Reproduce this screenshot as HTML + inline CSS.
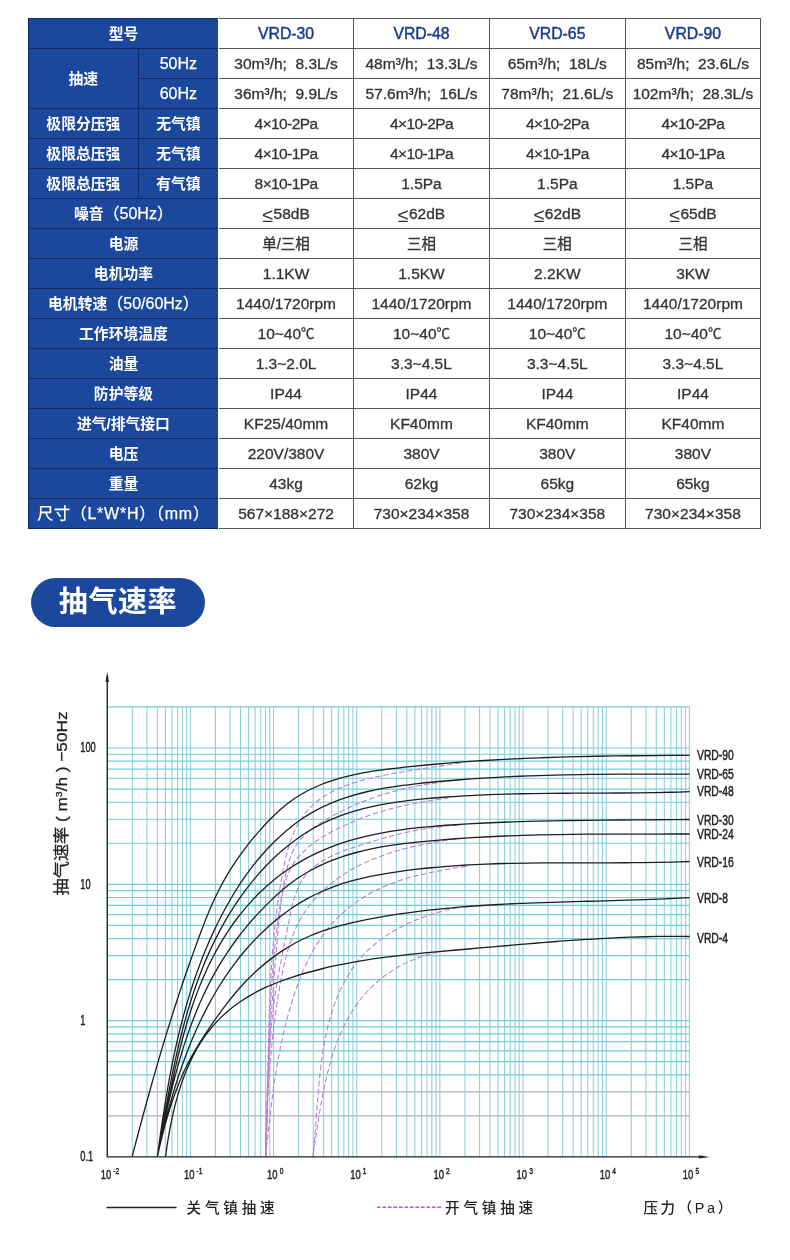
<!DOCTYPE html>
<html lang="zh-CN">
<head>
<meta charset="utf-8">
<title>VRD 真空泵参数 / 抽气速率</title>
<style>
html,body{margin:0;padding:0;background:#fff;}
body{width:790px;height:1260px;position:relative;overflow:hidden;
 font-family:"Liberation Sans","Noto Sans CJK SC",sans-serif;color:#333;}
.abs{position:absolute;}
.tbl{position:absolute;left:0;top:0;width:790px;height:560px;}
.blue{position:absolute;background:#1b489d;}
.c{position:absolute;display:flex;align-items:center;justify-content:center;white-space:pre;
 font-size:15.5px;line-height:30px;height:30px;padding-top:0.6px;box-sizing:border-box;color:#333;-webkit-text-stroke:0.3px #333;}
.h{color:#fff;-webkit-text-stroke:0;font-weight:700;font-size:14.8px;font-family:"Liberation Sans","Noto Sans CJK SC",sans-serif;}
.h2{color:#fff;font-weight:400;font-size:16px;-webkit-text-stroke:0.25px #fff;}
.n{letter-spacing:-0.6px;}
.le{font-size:19.5px;line-height:0;position:relative;top:0.8px;margin-right:0.5px;-webkit-text-stroke:0;}
.r{font-weight:400;font-size:16px;-webkit-text-stroke:0.25px #fff;}
.k{font-family:"Liberation Sans","Noto Sans CJK SC",sans-serif;font-size:14.5px;}
.m{color:#1b3a8c;font-size:15.8px;-webkit-text-stroke:0.45px #1b3a8c;}
.hl{position:absolute;height:1.25px;background:#555;}
.vl{position:absolute;width:1.25px;background:#555;}
.hn{position:absolute;height:1.8px;background:#122a63;}
.vn{position:absolute;width:1.8px;background:#122a63;}
.badge{position:absolute;left:31px;top:578px;width:174px;height:49px;border-radius:25px;background:#1b489d;
 color:#fff;font-weight:700;font-size:29px;line-height:49px;text-align:center;letter-spacing:0.6px;
 font-family:"Liberation Sans","Noto Sans CJK SC",sans-serif;}
svg{position:absolute;left:0;top:650px;}
svg text{font-family:"Liberation Sans","Noto Sans CJK SC",sans-serif;fill:#222;}
</style>
</head>
<body>

<div class="tbl">
<div class="blue" style="left:28.4px;top:18.5px;width:190.1px;height:510px"></div>
<div class="c h" style="left:28.4px;top:18.5px;width:190.1px">型号</div>
<div class="c m" style="left:218.5px;top:18.5px;width:135.1px">VRD-30</div>
<div class="c m" style="left:353.6px;top:18.5px;width:135.8px">VRD-48</div>
<div class="c m" style="left:489.4px;top:18.5px;width:135.9px">VRD-65</div>
<div class="c m" style="left:625.3px;top:18.5px;width:135.3px">VRD-90</div>
<div class="c h" style="left:28.4px;top:48.5px;width:109.9px;height:60px">抽速</div>
<div class="c h2" style="left:138.3px;top:48.5px;width:80.2px">50Hz</div>
<div class="c" style="left:218.5px;top:48.5px;width:135.1px">30m³/h;  8.3L/s</div>
<div class="c" style="left:353.6px;top:48.5px;width:135.8px">48m³/h;  13.3L/s</div>
<div class="c" style="left:489.4px;top:48.5px;width:135.9px">65m³/h;  18L/s</div>
<div class="c" style="left:625.3px;top:48.5px;width:135.3px">85m³/h;  23.6L/s</div>
<div class="c h2" style="left:138.3px;top:78.5px;width:80.2px">60Hz</div>
<div class="c" style="left:218.5px;top:78.5px;width:135.1px">36m³/h;  9.9L/s</div>
<div class="c" style="left:353.6px;top:78.5px;width:135.8px">57.6m³/h;  16L/s</div>
<div class="c" style="left:489.4px;top:78.5px;width:135.9px">78m³/h;  21.6L/s</div>
<div class="c" style="left:625.3px;top:78.5px;width:135.3px">102m³/h;  28.3L/s</div>
<div class="c h" style="left:28.4px;top:108.5px;width:109.9px;height:30px">极限分压强</div>
<div class="c h" style="left:138.3px;top:108.5px;width:80.2px">无气镇</div>
<div class="c" style="left:218.5px;top:108.5px;width:135.1px"><span class=n>4×10-2Pa</span></div>
<div class="c" style="left:353.6px;top:108.5px;width:135.8px"><span class=n>4×10-2Pa</span></div>
<div class="c" style="left:489.4px;top:108.5px;width:135.9px"><span class=n>4×10-2Pa</span></div>
<div class="c" style="left:625.3px;top:108.5px;width:135.3px"><span class=n>4×10-2Pa</span></div>
<div class="c h" style="left:28.4px;top:138.5px;width:109.9px;height:30px">极限总压强</div>
<div class="c h" style="left:138.3px;top:138.5px;width:80.2px">无气镇</div>
<div class="c" style="left:218.5px;top:138.5px;width:135.1px"><span class=n>4×10-1Pa</span></div>
<div class="c" style="left:353.6px;top:138.5px;width:135.8px"><span class=n>4×10-1Pa</span></div>
<div class="c" style="left:489.4px;top:138.5px;width:135.9px"><span class=n>4×10-1Pa</span></div>
<div class="c" style="left:625.3px;top:138.5px;width:135.3px"><span class=n>4×10-1Pa</span></div>
<div class="c h" style="left:28.4px;top:168.5px;width:109.9px;height:30px">极限总压强</div>
<div class="c h" style="left:138.3px;top:168.5px;width:80.2px">有气镇</div>
<div class="c" style="left:218.5px;top:168.5px;width:135.1px"><span class=n>8×10-1Pa</span></div>
<div class="c" style="left:353.6px;top:168.5px;width:135.8px">1.5Pa</div>
<div class="c" style="left:489.4px;top:168.5px;width:135.9px">1.5Pa</div>
<div class="c" style="left:625.3px;top:168.5px;width:135.3px">1.5Pa</div>
<div class="c h" style="left:28.4px;top:198.5px;width:190.1px">噪音<span class=r>（50Hz）</span></div>
<div class="c" style="left:218.5px;top:198.5px;width:135.1px"><span class=le>≤</span>58dB</div>
<div class="c" style="left:353.6px;top:198.5px;width:135.8px"><span class=le>≤</span>62dB</div>
<div class="c" style="left:489.4px;top:198.5px;width:135.9px"><span class=le>≤</span>62dB</div>
<div class="c" style="left:625.3px;top:198.5px;width:135.3px"><span class=le>≤</span>65dB</div>
<div class="c h" style="left:28.4px;top:228.5px;width:190.1px">电源</div>
<div class="c" style="left:218.5px;top:228.5px;width:135.1px"><span class=k>单/三相</span></div>
<div class="c" style="left:353.6px;top:228.5px;width:135.8px"><span class=k>三相</span></div>
<div class="c" style="left:489.4px;top:228.5px;width:135.9px"><span class=k>三相</span></div>
<div class="c" style="left:625.3px;top:228.5px;width:135.3px"><span class=k>三相</span></div>
<div class="c h" style="left:28.4px;top:258.5px;width:190.1px">电机功率</div>
<div class="c" style="left:218.5px;top:258.5px;width:135.1px">1.1KW</div>
<div class="c" style="left:353.6px;top:258.5px;width:135.8px">1.5KW</div>
<div class="c" style="left:489.4px;top:258.5px;width:135.9px">2.2KW</div>
<div class="c" style="left:625.3px;top:258.5px;width:135.3px">3KW</div>
<div class="c h" style="left:28.4px;top:288.5px;width:190.1px">电机转速<span class=r>（50/60Hz）</span></div>
<div class="c" style="left:218.5px;top:288.5px;width:135.1px">1440/1720rpm</div>
<div class="c" style="left:353.6px;top:288.5px;width:135.8px">1440/1720rpm</div>
<div class="c" style="left:489.4px;top:288.5px;width:135.9px">1440/1720rpm</div>
<div class="c" style="left:625.3px;top:288.5px;width:135.3px">1440/1720rpm</div>
<div class="c h" style="left:28.4px;top:318.5px;width:190.1px">工作环境温度</div>
<div class="c" style="left:218.5px;top:318.5px;width:135.1px">10~40<span class=k style="font-size:13.5px">℃</span></div>
<div class="c" style="left:353.6px;top:318.5px;width:135.8px">10~40<span class=k style="font-size:13.5px">℃</span></div>
<div class="c" style="left:489.4px;top:318.5px;width:135.9px">10~40<span class=k style="font-size:13.5px">℃</span></div>
<div class="c" style="left:625.3px;top:318.5px;width:135.3px">10~40<span class=k style="font-size:13.5px">℃</span></div>
<div class="c h" style="left:28.4px;top:348.5px;width:190.1px">油量</div>
<div class="c" style="left:218.5px;top:348.5px;width:135.1px">1.3~2.0L</div>
<div class="c" style="left:353.6px;top:348.5px;width:135.8px">3.3~4.5L</div>
<div class="c" style="left:489.4px;top:348.5px;width:135.9px">3.3~4.5L</div>
<div class="c" style="left:625.3px;top:348.5px;width:135.3px">3.3~4.5L</div>
<div class="c h" style="left:28.4px;top:378.5px;width:190.1px">防护等级</div>
<div class="c" style="left:218.5px;top:378.5px;width:135.1px">IP44</div>
<div class="c" style="left:353.6px;top:378.5px;width:135.8px">IP44</div>
<div class="c" style="left:489.4px;top:378.5px;width:135.9px">IP44</div>
<div class="c" style="left:625.3px;top:378.5px;width:135.3px">IP44</div>
<div class="c h" style="left:28.4px;top:408.5px;width:190.1px">进气/排气接口</div>
<div class="c" style="left:218.5px;top:408.5px;width:135.1px">KF25/40mm</div>
<div class="c" style="left:353.6px;top:408.5px;width:135.8px">KF40mm</div>
<div class="c" style="left:489.4px;top:408.5px;width:135.9px">KF40mm</div>
<div class="c" style="left:625.3px;top:408.5px;width:135.3px">KF40mm</div>
<div class="c h" style="left:28.4px;top:438.5px;width:190.1px">电压</div>
<div class="c" style="left:218.5px;top:438.5px;width:135.1px">220V/380V</div>
<div class="c" style="left:353.6px;top:438.5px;width:135.8px">380V</div>
<div class="c" style="left:489.4px;top:438.5px;width:135.9px">380V</div>
<div class="c" style="left:625.3px;top:438.5px;width:135.3px">380V</div>
<div class="c h" style="left:28.4px;top:468.5px;width:190.1px">重量</div>
<div class="c" style="left:218.5px;top:468.5px;width:135.1px">43kg</div>
<div class="c" style="left:353.6px;top:468.5px;width:135.8px">62kg</div>
<div class="c" style="left:489.4px;top:468.5px;width:135.9px">65kg</div>
<div class="c" style="left:625.3px;top:468.5px;width:135.3px">65kg</div>
<div class="c h" style="left:28.4px;top:498.5px;width:190.1px"><span class=r style="letter-spacing:0.75px">尺寸（L*W*H）（mm）</span></div>
<div class="c" style="left:218.5px;top:498.5px;width:135.1px">567×188×272</div>
<div class="c" style="left:353.6px;top:498.5px;width:135.8px">730×234×358</div>
<div class="c" style="left:489.4px;top:498.5px;width:135.9px">730×234×358</div>
<div class="c" style="left:625.3px;top:498.5px;width:135.3px">730×234×358</div>
<div class="hl" style="left:218.5px;top:17.8px;width:542.8px"></div>
<div class="hn" style="left:27.6px;top:17.7px;width:190.9px"></div>
<div class="hl" style="left:218.5px;top:47.8px;width:542.8px"></div>
<div class="hn" style="left:27.6px;top:47.7px;width:190.9px"></div>
<div class="hl" style="left:218.5px;top:77.8px;width:542.8px"></div>
<div class="hn" style="left:138.3px;top:77.7px;width:80.2px"></div>
<div class="hl" style="left:218.5px;top:107.8px;width:542.8px"></div>
<div class="hn" style="left:27.6px;top:107.7px;width:190.9px"></div>
<div class="hl" style="left:218.5px;top:137.8px;width:542.8px"></div>
<div class="hn" style="left:27.6px;top:137.7px;width:190.9px"></div>
<div class="hl" style="left:218.5px;top:167.8px;width:542.8px"></div>
<div class="hn" style="left:27.6px;top:167.7px;width:190.9px"></div>
<div class="hl" style="left:218.5px;top:197.8px;width:542.8px"></div>
<div class="hn" style="left:27.6px;top:197.7px;width:190.9px"></div>
<div class="hl" style="left:218.5px;top:227.8px;width:542.8px"></div>
<div class="hn" style="left:27.6px;top:227.7px;width:190.9px"></div>
<div class="hl" style="left:218.5px;top:257.8px;width:542.8px"></div>
<div class="hn" style="left:27.6px;top:257.7px;width:190.9px"></div>
<div class="hl" style="left:218.5px;top:287.8px;width:542.8px"></div>
<div class="hn" style="left:27.6px;top:287.7px;width:190.9px"></div>
<div class="hl" style="left:218.5px;top:317.8px;width:542.8px"></div>
<div class="hn" style="left:27.6px;top:317.7px;width:190.9px"></div>
<div class="hl" style="left:218.5px;top:347.8px;width:542.8px"></div>
<div class="hn" style="left:27.6px;top:347.7px;width:190.9px"></div>
<div class="hl" style="left:218.5px;top:377.8px;width:542.8px"></div>
<div class="hn" style="left:27.6px;top:377.7px;width:190.9px"></div>
<div class="hl" style="left:218.5px;top:407.8px;width:542.8px"></div>
<div class="hn" style="left:27.6px;top:407.7px;width:190.9px"></div>
<div class="hl" style="left:218.5px;top:437.8px;width:542.8px"></div>
<div class="hn" style="left:27.6px;top:437.7px;width:190.9px"></div>
<div class="hl" style="left:218.5px;top:467.8px;width:542.8px"></div>
<div class="hn" style="left:27.6px;top:467.7px;width:190.9px"></div>
<div class="hl" style="left:218.5px;top:497.8px;width:542.8px"></div>
<div class="hn" style="left:27.6px;top:497.7px;width:190.9px"></div>
<div class="hl" style="left:218.5px;top:527.8px;width:542.8px"></div>
<div class="hn" style="left:27.6px;top:527.7px;width:190.9px"></div>
<div class="vl" style="left:352.9px;top:17.8px;height:511.4px"></div>
<div class="vl" style="left:488.7px;top:17.8px;height:511.4px"></div>
<div class="vl" style="left:624.6px;top:17.8px;height:511.4px"></div>
<div class="vl" style="left:759.9px;top:17.8px;height:511.4px"></div>
<div class="vn" style="left:27.6px;top:17.7px;height:511.6px"></div>
<div class="vn" style="left:137.5px;top:48.5px;height:150px"></div>
</div>
<div class="badge">抽气速率</div>
<svg width="790" height="610" viewBox="0 650 790 610">
<path d="M132.28 706.97V1156.9M146.93 706.97V1156.9M157.32 706.97V1156.9M165.38 706.97V1156.9M171.96 706.97V1156.9M177.53 706.97V1156.9M182.35 706.97V1156.9M186.6 706.97V1156.9M190.41 706.97V1156.9M215.44 706.97V1156.9M230.09 706.97V1156.9M240.48 706.97V1156.9M248.54 706.97V1156.9M255.12 706.97V1156.9M260.69 706.97V1156.9M265.51 706.97V1156.9M269.76 706.97V1156.9M273.57 706.97V1156.9M298.6 706.97V1156.9M313.25 706.97V1156.9M323.64 706.97V1156.9M331.7 706.97V1156.9M338.28 706.97V1156.9M343.85 706.97V1156.9M348.67 706.97V1156.9M352.92 706.97V1156.9M356.73 706.97V1156.9M381.76 706.97V1156.9M396.41 706.97V1156.9M406.8 706.97V1156.9M414.86 706.97V1156.9M421.44 706.97V1156.9M427.01 706.97V1156.9M431.83 706.97V1156.9M436.08 706.97V1156.9M439.89 706.97V1156.9M464.92 706.97V1156.9M479.57 706.97V1156.9M489.96 706.97V1156.9M498.02 706.97V1156.9M504.6 706.97V1156.9M510.17 706.97V1156.9M514.99 706.97V1156.9M519.24 706.97V1156.9M523.05 706.97V1156.9M548.08 706.97V1156.9M562.73 706.97V1156.9M573.12 706.97V1156.9M581.18 706.97V1156.9M587.76 706.97V1156.9M593.33 706.97V1156.9M598.15 706.97V1156.9M602.4 706.97V1156.9M606.21 706.97V1156.9M631.24 706.97V1156.9M645.89 706.97V1156.9M656.28 706.97V1156.9M664.34 706.97V1156.9M670.92 706.97V1156.9M676.49 706.97V1156.9M681.31 706.97V1156.9M685.56 706.97V1156.9M689.37 706.97V1156.9" stroke="#90cedb" stroke-width="1.05" fill="none"/>
<path d="M107.25 1074.84H689.37M107.25 1061.63H689.37M107.25 1050.84H689.37M107.25 1041.71H689.37M107.25 1033.81H689.37M107.25 1026.84H689.37M107.25 1020.6H689.37M107.25 979.57H689.37M107.25 955.57H689.37M107.25 938.54H689.37M107.25 925.33H689.37M107.25 914.54H689.37M107.25 905.41H689.37M107.25 897.51H689.37M107.25 890.54H689.37M107.25 884.3H689.37M107.25 843.27H689.37M107.25 819.27H689.37M107.25 802.24H689.37M107.25 789.03H689.37M107.25 778.24H689.37M107.25 769.11H689.37M107.25 761.21H689.37M107.25 754.24H689.37M107.25 748H689.37M107.25 706.97H689.37" stroke="#72d0db" stroke-width="1.2" fill="none"/>
<path d="M107.25 1115.87H689.37M107.25 1091.87H689.37" stroke="#adb4b8" stroke-width="1.05" fill="none"/>
<g stroke="#b97cd2" stroke-width="1.05" stroke-dasharray="5.5 2.6" fill="none">
<path d="M265.7 1156.5C265.81 1153.51 266.18 1144.51 266.37 1138.53C266.57 1132.55 266.74 1126.58 266.89 1120.62C267.04 1114.66 267.17 1108.7 267.3 1102.76C267.42 1096.81 267.52 1090.87 267.63 1084.93C267.74 1078.99 267.84 1073.06 267.95 1067.13C268.05 1061.21 268.16 1055.29 268.28 1049.36C268.41 1043.44 268.53 1037.53 268.69 1031.61C268.84 1025.69 269.01 1019.78 269.2 1013.86C269.4 1007.95 269.62 1002.04 269.88 996.12C270.14 990.2 270.42 984.29 270.76 978.37C271.09 972.45 271.46 966.53 271.88 960.6C272.31 954.68 272.77 948.75 273.3 942.81C273.83 936.88 274.41 930.94 275.06 925C275.71 919.05 276.42 913.1 277.2 907.14C277.99 901.18 278.84 895.21 279.77 889.24C280.71 883.27 281.67 877.24 282.83 871.3C283.98 865.36 285.17 859.36 286.71 853.59C288.25 847.83 289.92 842.1 292.06 836.71C294.21 831.32 296.59 826.06 299.56 821.24C302.52 816.42 305.89 811.86 309.86 807.79C313.82 803.72 318.46 800.08 323.36 796.83C328.26 793.59 333.74 790.8 339.24 788.34C344.75 785.87 350.59 783.86 356.41 782.03C362.23 780.2 368.24 778.74 374.16 777.36C380.09 775.98 386.06 774.85 391.94 773.74C397.82 772.63 403.63 771.66 409.45 770.7C415.26 769.74 421.02 768.88 426.83 767.99C432.64 767.1 438.43 766.26 444.29 765.37C450.15 764.47 459.05 763.06 462 762.6" stroke-dashoffset="0"/>
<path d="M265.7 1156.5C265.8 1153.66 266.12 1145.14 266.31 1139.45C266.5 1133.76 266.66 1128.07 266.82 1122.37C266.98 1116.66 267.12 1110.96 267.26 1105.24C267.41 1099.53 267.54 1093.81 267.68 1088.09C267.82 1082.38 267.96 1076.65 268.11 1070.93C268.26 1065.2 268.41 1059.47 268.58 1053.75C268.75 1048.02 268.93 1042.29 269.13 1036.57C269.34 1030.84 269.56 1025.11 269.81 1019.39C270.06 1013.66 270.33 1007.94 270.64 1002.22C270.95 996.5 271.29 990.78 271.67 985.07C272.05 979.36 272.46 973.65 272.93 967.95C273.39 962.25 273.89 956.55 274.45 950.86C275.01 945.17 275.62 939.49 276.28 933.82C276.95 928.15 277.67 922.48 278.46 916.82C279.24 911.17 280.09 905.52 281.01 899.89C281.93 894.25 282.88 888.61 283.97 883.01C285.07 877.42 286.04 871.72 287.57 866.32C289.1 860.92 290.66 855.5 293.18 850.62C295.69 845.74 298.81 841.14 302.66 837.04C306.5 832.93 311.48 829.39 316.24 826C321 822.6 326.17 819.56 331.22 816.67C336.28 813.78 341.4 811.12 346.57 808.65C351.74 806.18 356.96 803.92 362.24 801.82C367.51 799.73 372.84 797.83 378.22 796.08C383.59 794.32 389.02 792.75 394.48 791.29C399.95 789.84 405.46 788.55 411.02 787.36C416.57 786.17 422.16 785.12 427.79 784.16C433.42 783.19 439.09 782.35 444.8 781.58C450.5 780.8 459.13 779.85 462 779.5" stroke-dashoffset="3.1"/>
<path d="M265.7 1156.5C265.73 1153.79 265.8 1145.64 265.88 1140.22C265.96 1134.81 266.06 1129.41 266.19 1124.02C266.31 1118.62 266.45 1113.24 266.62 1107.87C266.78 1102.49 266.96 1097.13 267.16 1091.76C267.36 1086.4 267.59 1081.05 267.82 1075.69C268.06 1070.34 268.32 1064.99 268.6 1059.65C268.87 1054.3 269.16 1048.95 269.47 1043.61C269.78 1038.26 270.11 1032.92 270.45 1027.57C270.79 1022.22 271.15 1016.87 271.52 1011.51C271.89 1006.16 272.28 1000.8 272.68 995.43C273.09 990.06 273.5 984.69 273.93 979.31C274.37 973.93 274.81 968.54 275.27 963.14C275.73 957.74 276.2 952.33 276.68 946.9C277.17 941.48 277.66 936.04 278.17 930.59C278.68 925.14 279.14 919.64 279.73 914.2C280.32 908.75 280.83 903.24 281.73 897.92C282.62 892.61 283.58 887.32 285.1 882.33C286.62 877.35 288.41 872.49 290.84 868.01C293.28 863.53 296.31 859.34 299.73 855.46C303.16 851.58 307.18 848.04 311.4 844.73C315.61 841.43 320.3 838.45 325 835.64C329.71 832.82 334.72 830.27 339.64 827.84C344.56 825.4 349.55 823.14 354.54 821.04C359.53 818.93 364.54 816.99 369.59 815.22C374.63 813.44 379.71 811.86 384.82 810.39C389.93 808.93 395.07 807.64 400.26 806.44C405.44 805.23 410.66 804.17 415.92 803.17C421.19 802.17 426.49 801.28 431.83 800.42C437.18 799.56 445.31 798.4 448 798" stroke-dashoffset="6.2"/>
<path d="M265.7 1156.5C265.81 1153.92 266.15 1146.2 266.35 1141.04C266.54 1135.87 266.7 1130.68 266.86 1125.48C267.02 1120.29 267.15 1115.08 267.3 1109.87C267.45 1104.66 267.59 1099.44 267.74 1094.22C267.9 1089 268.06 1083.78 268.26 1078.56C268.45 1073.34 268.65 1068.11 268.9 1062.9C269.15 1057.69 269.42 1052.48 269.75 1047.28C270.08 1042.08 270.45 1036.89 270.88 1031.72C271.31 1026.54 271.78 1021.38 272.34 1016.24C272.9 1011.09 273.51 1005.97 274.21 1000.86C274.91 995.75 275.7 990.68 276.53 985.6C277.37 980.52 278.29 975.46 279.22 970.38C280.16 965.31 281.16 960.23 282.16 955.13C283.17 950.02 284.21 944.9 285.24 939.74C286.26 934.57 287.27 929.35 288.32 924.13C289.37 918.91 290.28 913.54 291.53 908.4C292.78 903.27 294.02 898.09 295.82 893.32C297.61 888.55 299.6 883.91 302.29 879.8C304.98 875.7 308.28 871.99 311.96 868.68C315.65 865.37 320 862.55 324.42 859.94C328.83 857.33 333.64 855.1 338.48 853.01C343.31 850.92 348.4 849.13 353.42 847.39C358.45 845.65 363.61 844.12 368.65 842.59C373.68 841.05 378.66 839.57 383.64 838.17C388.61 836.78 393.51 835.42 398.5 834.2C403.49 832.99 408.5 831.87 413.56 830.87C418.62 829.87 423.74 829 428.87 828.23C434.01 827.46 439.18 826.81 444.37 826.28C449.56 825.74 457.4 825.21 460 825" stroke-dashoffset="1.2"/>
<path d="M265.7 1156.5C265.77 1154.02 265.97 1146.58 266.13 1141.64C266.28 1136.71 266.44 1131.78 266.62 1126.87C266.8 1121.95 267 1117.05 267.21 1112.15C267.43 1107.26 267.66 1102.37 267.92 1097.49C268.18 1092.61 268.46 1087.74 268.77 1082.87C269.08 1078 269.41 1073.14 269.78 1068.27C270.15 1063.41 270.55 1058.55 270.99 1053.69C271.43 1048.83 271.9 1043.97 272.42 1039.1C272.94 1034.24 273.49 1029.38 274.09 1024.51C274.69 1019.63 275.34 1014.76 276.03 1009.88C276.73 1005 277.46 1000.1 278.26 995.21C279.07 990.32 279.91 985.42 280.85 980.53C281.8 975.65 282.8 970.76 283.92 965.91C285.04 961.06 286.22 956.2 287.6 951.43C288.97 946.67 290.42 941.91 292.15 937.31C293.88 932.71 295.77 928.18 297.96 923.85C300.15 919.52 302.62 915.33 305.31 911.33C308.01 907.32 310.97 903.48 314.12 899.82C317.27 896.16 320.66 892.67 324.2 889.38C327.74 886.08 331.5 882.97 335.38 880.05C339.27 877.13 343.33 874.42 347.5 871.88C351.67 869.34 355.99 867.01 360.39 864.83C364.79 862.65 369.32 860.66 373.91 858.8C378.49 856.94 383.19 855.25 387.91 853.69C392.63 852.12 397.43 850.7 402.24 849.39C407.05 848.08 411.92 846.91 416.77 845.82C421.61 844.73 426.49 843.76 431.33 842.86C436.17 841.96 441.01 841.16 445.79 840.42C450.57 839.68 457.63 838.74 460 838.4" stroke-dashoffset="4.3"/>
<path d="M265.7 1156.5C265.93 1154.24 266.63 1147.45 267.1 1142.93C267.58 1138.4 268.05 1133.88 268.54 1129.35C269.04 1124.83 269.54 1120.3 270.06 1115.78C270.59 1111.26 271.13 1106.74 271.71 1102.22C272.28 1097.7 272.87 1093.19 273.51 1088.68C274.14 1084.17 274.81 1079.66 275.51 1075.17C276.22 1070.67 276.97 1066.17 277.76 1061.68C278.56 1057.2 279.4 1052.71 280.3 1048.24C281.2 1043.77 282.14 1039.3 283.16 1034.85C284.17 1030.39 285.24 1025.95 286.39 1021.51C287.53 1017.08 288.73 1012.65 290.02 1008.24C291.31 1003.82 292.66 999.41 294.11 995.03C295.55 990.65 297.07 986.27 298.7 981.96C300.34 977.64 302.05 973.35 303.9 969.15C305.75 964.94 307.7 960.78 309.8 956.73C311.89 952.68 314.1 948.69 316.47 944.84C318.85 940.99 321.35 937.22 324.03 933.61C326.71 930 329.55 926.51 332.54 923.17C335.54 919.84 338.71 916.64 342.01 913.6C345.3 910.57 348.76 907.68 352.34 904.95C355.91 902.23 359.64 899.66 363.47 897.27C367.3 894.88 371.26 892.65 375.32 890.6C379.37 888.55 383.56 886.69 387.8 884.97C392.05 883.25 396.4 881.71 400.79 880.28C405.18 878.85 409.65 877.57 414.13 876.38C418.61 875.2 423.15 874.14 427.67 873.15C432.19 872.16 436.75 871.28 441.26 870.43C445.78 869.59 450.3 868.84 454.76 868.1C459.21 867.36 465.79 866.35 468 866" stroke-dashoffset="7.4"/>
<path d="M312.8 1156.5C312.99 1154.74 313.58 1149.49 313.93 1145.93C314.28 1142.38 314.6 1138.78 314.9 1135.17C315.21 1131.55 315.49 1127.91 315.77 1124.24C316.06 1120.58 316.32 1116.89 316.6 1113.19C316.88 1109.49 317.15 1105.77 317.44 1102.04C317.74 1098.32 318.03 1094.57 318.36 1090.83C318.68 1087.09 319.02 1083.34 319.4 1079.6C319.77 1075.85 320.17 1072.1 320.62 1068.36C321.07 1064.62 321.55 1060.89 322.09 1057.17C322.62 1053.45 323.2 1049.73 323.85 1046.04C324.5 1042.35 325.19 1038.67 325.97 1035.02C326.75 1031.37 327.58 1027.74 328.5 1024.14C329.43 1020.54 330.42 1016.97 331.51 1013.43C332.6 1009.9 333.76 1006.39 335.04 1002.93C336.31 999.47 337.67 996.03 339.15 992.66C340.63 989.29 342.2 985.96 343.9 982.72C345.6 979.47 347.4 976.28 349.34 973.2C351.27 970.11 353.32 967.1 355.51 964.21C357.7 961.32 360.02 958.53 362.46 955.87C364.91 953.2 367.49 950.65 370.18 948.2C372.86 945.76 375.67 943.43 378.57 941.2C381.46 938.98 384.47 936.87 387.55 934.86C390.63 932.85 393.81 930.94 397.05 929.14C400.28 927.34 403.6 925.65 406.96 924.05C410.33 922.45 413.76 920.96 417.22 919.56C420.69 918.16 424.21 916.86 427.74 915.65C431.28 914.45 434.85 913.34 438.43 912.32C442.01 911.3 445.62 910.38 449.21 909.54C452.81 908.71 458.2 907.68 460 907.3" stroke-dashoffset="2.4"/>
<path d="M312.8 1156.5C313.04 1154.98 313.75 1150.44 314.22 1147.37C314.69 1144.3 315.15 1141.19 315.62 1138.07C316.09 1134.95 316.56 1131.79 317.05 1128.63C317.53 1125.46 318.02 1122.28 318.53 1119.08C319.04 1115.89 319.56 1112.68 320.11 1109.47C320.66 1106.26 321.22 1103.03 321.81 1099.82C322.41 1096.6 323.02 1093.38 323.68 1090.17C324.33 1086.96 325.01 1083.75 325.74 1080.56C326.47 1077.36 327.23 1074.18 328.03 1071.02C328.84 1067.85 329.69 1064.7 330.59 1061.58C331.5 1058.46 332.45 1055.36 333.46 1052.29C334.47 1049.22 335.53 1046.18 336.65 1043.18C337.78 1040.17 338.96 1037.2 340.22 1034.28C341.48 1031.35 342.8 1028.46 344.19 1025.62C345.59 1022.78 347.06 1019.99 348.61 1017.25C350.16 1014.51 351.78 1011.82 353.49 1009.2C355.21 1006.57 357 1004 358.89 1001.5C360.78 998.99 362.76 996.55 364.83 994.18C366.91 991.82 369.09 989.52 371.36 987.3C373.62 985.08 376 982.93 378.45 980.87C380.89 978.81 383.44 976.83 386.05 974.94C388.66 973.05 391.35 971.25 394.1 969.55C396.85 967.84 399.67 966.23 402.54 964.73C405.41 963.22 408.35 961.81 411.32 960.52C414.28 959.23 417.31 958.03 420.36 956.96C423.41 955.89 426.5 954.93 429.61 954.1C432.72 953.26 435.86 952.54 439 951.95C442.15 951.37 445.32 950.9 448.49 950.58C451.66 950.25 456.41 950.1 458 950" stroke-dashoffset="5.5"/>
</g>
<path d="M132.2 1156.5C132.98 1153.5 135.31 1144.49 136.9 1138.48C138.48 1132.48 140.07 1126.47 141.68 1120.47C143.3 1114.47 144.92 1108.47 146.57 1102.48C148.22 1096.48 149.89 1090.49 151.58 1084.51C153.26 1078.52 154.97 1072.54 156.7 1066.56C158.44 1060.59 160.19 1054.62 161.97 1048.66C163.75 1042.7 165.55 1036.74 167.38 1030.8C169.21 1024.85 171.06 1018.92 172.95 1012.99C174.83 1007.06 176.75 1001.15 178.69 995.24C180.63 989.34 182.6 983.45 184.61 977.57C186.61 971.69 188.65 965.82 190.72 959.96C192.79 954.11 194.89 948.27 197.03 942.45C199.17 936.62 201.32 930.8 203.58 925.03C205.84 919.27 208.12 913.51 210.58 907.85C213.04 902.19 215.58 896.58 218.35 891.08C221.11 885.59 224.04 880.19 227.17 874.9C230.3 869.61 233.63 864.43 237.14 859.33C240.65 854.24 244.35 849.25 248.21 844.33C252.07 839.42 256.11 834.57 260.32 829.84C264.53 825.12 268.89 820.37 273.45 815.98C278 811.6 282.73 807.31 287.65 803.52C292.58 799.74 297.72 796.32 303.01 793.28C308.3 790.24 313.79 787.62 319.39 785.27C324.99 782.91 330.77 780.93 336.62 779.14C342.48 777.36 348.47 775.89 354.51 774.56C360.55 773.23 366.7 772.15 372.87 771.16C379.03 770.17 385.28 769.38 391.51 768.61C397.73 767.84 404 767.19 410.24 766.55C416.47 765.9 422.7 765.3 428.93 764.73C435.15 764.16 441.36 763.63 447.57 763.13C453.78 762.63 459.99 762.16 466.19 761.72C472.38 761.28 478.58 760.88 484.77 760.5C490.96 760.12 497.15 759.77 503.33 759.44C509.52 759.11 515.7 758.82 521.88 758.54C528.06 758.27 534.24 758.02 540.43 757.79C546.61 757.56 552.79 757.35 558.98 757.16C565.16 756.98 571.35 756.81 577.54 756.66C583.73 756.51 589.92 756.38 596.12 756.26C602.32 756.14 608.52 756.04 614.73 755.96C620.94 755.87 627.15 755.79 633.37 755.73C639.59 755.66 645.82 755.61 652.06 755.57C658.3 755.53 664.54 755.49 670.8 755.46C677.06 755.44 686.47 755.41 689.6 755.4M157.4 1156.5C157.8 1153.54 158.98 1144.68 159.8 1138.77C160.63 1132.85 161.48 1126.93 162.37 1121.01C163.25 1115.09 164.17 1109.17 165.13 1103.25C166.1 1097.34 167.09 1091.42 168.15 1085.52C169.2 1079.61 170.3 1073.71 171.46 1067.83C172.61 1061.95 173.82 1056.07 175.1 1050.22C176.38 1044.36 177.71 1038.52 179.13 1032.71C180.54 1026.89 182.02 1021.09 183.58 1015.32C185.15 1009.55 186.78 1003.8 188.51 998.08C190.24 992.36 192.05 986.67 193.96 981.02C195.87 975.36 197.86 969.74 199.96 964.15C202.07 958.57 204.26 953.02 206.58 947.52C208.89 942.01 211.3 936.54 213.84 931.13C216.38 925.71 219.02 920.33 221.8 915.02C224.58 909.7 227.47 904.42 230.51 899.24C233.54 894.06 236.71 888.94 240.02 883.93C243.34 878.93 246.78 874 250.4 869.21C254.01 864.43 257.77 859.74 261.7 855.22C265.63 850.69 269.72 846.29 273.99 842.08C278.26 837.86 282.71 833.77 287.32 829.94C291.92 826.11 296.71 822.43 301.63 819.08C306.56 815.74 311.65 812.64 316.86 809.86C322.07 807.07 327.43 804.61 332.89 802.37C338.35 800.13 343.94 798.18 349.59 796.41C355.25 794.64 361.02 793.13 366.84 791.75C372.65 790.38 378.56 789.22 384.48 788.17C390.41 787.11 396.41 786.23 402.4 785.42C408.4 784.6 414.44 783.93 420.46 783.28C426.48 782.63 432.51 782.06 438.52 781.51C444.53 780.97 450.53 780.46 456.52 779.99C462.51 779.52 468.49 779.09 474.46 778.69C480.43 778.29 486.4 777.92 492.36 777.59C498.32 777.25 504.27 776.95 510.22 776.67C516.17 776.4 522.11 776.15 528.06 775.93C534 775.7 539.94 775.51 545.89 775.33C551.83 775.16 557.77 775.01 563.72 774.88C569.66 774.75 575.61 774.64 581.56 774.54C587.52 774.45 593.47 774.38 599.43 774.32C605.4 774.26 611.37 774.21 617.34 774.18C623.32 774.14 629.31 774.13 635.3 774.11C641.3 774.1 647.31 774.1 653.32 774.11C659.34 774.11 665.37 774.12 671.42 774.14C677.47 774.16 686.57 774.19 689.6 774.2M157.4 1156.5C157.89 1153.63 159.37 1145.03 160.37 1139.27C161.36 1133.52 162.35 1127.74 163.37 1121.97C164.38 1116.19 165.4 1110.4 166.46 1104.61C167.51 1098.83 168.59 1093.03 169.71 1087.25C170.83 1081.47 171.98 1075.68 173.18 1069.92C174.39 1064.15 175.63 1058.39 176.94 1052.65C178.26 1046.91 179.62 1041.18 181.06 1035.48C182.5 1029.78 184 1024.09 185.59 1018.44C187.18 1012.79 188.84 1007.17 190.6 1001.58C192.36 995.99 194.2 990.44 196.15 984.93C198.1 979.42 200.15 973.94 202.31 968.52C204.48 963.09 206.75 957.71 209.15 952.39C211.55 947.06 214.06 941.79 216.72 936.58C219.38 931.36 222.16 926.2 225.09 921.12C228.03 916.03 231.1 910.99 234.33 906.06C237.55 901.13 240.92 896.26 244.44 891.52C247.96 886.78 251.62 882.12 255.43 877.62C259.25 873.12 263.21 868.73 267.32 864.51C271.43 860.29 275.69 856.2 280.1 852.32C284.51 848.43 289.08 844.69 293.77 841.19C298.47 837.69 303.32 834.36 308.28 831.32C313.24 828.27 318.34 825.45 323.55 822.9C328.75 820.36 334.09 818.1 339.5 816.05C344.91 814 350.44 812.22 356.03 810.6C361.61 808.98 367.29 807.59 373.01 806.34C378.73 805.09 384.52 804.03 390.34 803.08C396.15 802.12 402.02 801.33 407.89 800.61C413.76 799.88 419.67 799.28 425.56 798.72C431.45 798.16 437.34 797.68 443.23 797.24C449.11 796.79 454.99 796.4 460.87 796.05C466.74 795.7 472.61 795.4 478.48 795.13C484.35 794.86 490.21 794.63 496.07 794.43C501.93 794.23 507.78 794.07 513.64 793.93C519.49 793.79 525.35 793.68 531.2 793.59C537.05 793.49 542.9 793.43 548.75 793.37C554.6 793.31 560.45 793.27 566.3 793.23C572.15 793.19 578.01 793.17 583.86 793.14C589.71 793.12 595.57 793.1 601.43 793.07C607.28 793.05 613.14 793.02 619.01 792.98C624.87 792.94 630.74 792.9 636.61 792.84C642.48 792.77 648.36 792.7 654.24 792.6C660.12 792.49 666.01 792.38 671.9 792.23C677.8 792.08 686.65 791.79 689.6 791.7M157.4 1156.5C157.95 1153.75 159.63 1145.54 160.73 1140.01C161.83 1134.49 162.9 1128.93 163.99 1123.36C165.09 1117.79 166.17 1112.2 167.28 1106.6C168.39 1101 169.51 1095.39 170.67 1089.78C171.83 1084.17 173 1078.56 174.24 1072.96C175.48 1067.35 176.74 1061.75 178.09 1056.18C179.43 1050.6 180.81 1045.04 182.29 1039.5C183.76 1033.97 185.3 1028.46 186.93 1022.98C188.57 1017.51 190.28 1012.07 192.1 1006.67C193.93 1001.28 195.84 995.92 197.88 990.63C199.92 985.33 202.06 980.07 204.35 974.89C206.64 969.71 209.04 964.58 211.6 959.53C214.16 954.48 216.85 949.49 219.71 944.59C222.58 939.69 225.59 934.85 228.77 930.12C231.95 925.4 235.3 920.75 238.79 916.24C242.29 911.73 245.95 907.32 249.76 903.08C253.57 898.83 257.54 894.71 261.66 890.78C265.77 886.84 270.04 883.05 274.45 879.48C278.86 875.9 283.43 872.5 288.12 869.31C292.81 866.13 297.65 863.14 302.57 860.35C307.5 857.57 312.56 854.99 317.68 852.62C322.8 850.24 328.02 848.09 333.29 846.1C338.57 844.12 343.93 842.35 349.34 840.72C354.74 839.1 360.22 837.66 365.74 836.35C371.26 835.03 376.83 833.89 382.43 832.84C388.04 831.8 393.69 830.9 399.35 830.08C405.02 829.27 410.72 828.57 416.43 827.94C422.13 827.31 427.87 826.78 433.59 826.28C439.32 825.79 445.06 825.38 450.78 824.98C456.5 824.59 462.22 824.24 467.92 823.91C473.63 823.58 479.32 823.29 485.01 823.01C490.69 822.74 496.37 822.5 502.04 822.27C507.71 822.05 513.38 821.85 519.04 821.66C524.7 821.48 530.36 821.32 536.01 821.18C541.67 821.03 547.32 820.91 552.97 820.8C558.62 820.69 564.28 820.59 569.93 820.5C575.58 820.42 581.24 820.35 586.9 820.28C592.56 820.22 598.22 820.16 603.89 820.11C609.56 820.06 615.23 820.02 620.91 819.98C626.6 819.94 632.29 819.91 637.99 819.87C643.69 819.84 649.39 819.8 655.12 819.77C660.84 819.73 666.57 819.69 672.32 819.65C678.06 819.6 686.72 819.52 689.6 819.5M157.4 1156.5C157.93 1153.8 159.5 1145.73 160.58 1140.32C161.67 1134.9 162.77 1129.46 163.92 1124.01C165.06 1118.57 166.24 1113.1 167.46 1107.65C168.69 1102.19 169.96 1096.72 171.28 1091.27C172.61 1085.82 173.98 1080.37 175.43 1074.94C176.88 1069.51 178.38 1064.09 179.97 1058.71C181.56 1053.32 183.21 1047.95 184.95 1042.62C186.7 1037.3 188.52 1032 190.44 1026.75C192.36 1021.5 194.37 1016.29 196.49 1011.14C198.61 1005.98 200.83 1000.88 203.17 995.84C205.51 990.8 207.95 985.81 210.52 980.91C213.1 976 215.79 971.16 218.61 966.4C221.43 961.63 224.38 956.94 227.45 952.34C230.52 947.73 233.71 943.2 237.03 938.76C240.36 934.32 243.8 929.95 247.38 925.68C250.95 921.41 254.67 917.23 258.48 913.14C262.29 909.05 266.24 905.04 270.27 901.15C274.29 897.26 278.38 893.4 282.64 889.79C286.91 886.19 291.29 882.72 295.84 879.54C300.4 876.36 305.14 873.43 309.97 870.73C314.81 868.03 319.79 865.59 324.83 863.36C329.88 861.13 335.03 859.15 340.24 857.34C345.46 855.53 350.76 853.95 356.1 852.5C361.45 851.06 366.87 849.82 372.33 848.68C377.78 847.55 383.29 846.58 388.82 845.7C394.35 844.82 399.92 844.07 405.5 843.38C411.07 842.69 416.68 842.11 422.27 841.55C427.86 840.99 433.46 840.51 439.04 840.04C444.63 839.57 450.21 839.15 455.78 838.75C461.36 838.35 466.92 837.99 472.49 837.66C478.05 837.33 483.61 837.03 489.17 836.75C494.72 836.48 500.27 836.23 505.82 836.01C511.38 835.79 516.92 835.59 522.47 835.42C528.02 835.24 533.56 835.09 539.11 834.96C544.65 834.82 550.2 834.71 555.75 834.61C561.29 834.51 566.84 834.43 572.39 834.36C577.94 834.3 583.49 834.24 589.04 834.2C594.6 834.16 600.16 834.13 605.72 834.1C611.28 834.08 616.85 834.06 622.42 834.05C627.99 834.04 633.57 834.04 639.15 834.03C644.73 834.03 650.32 834.03 655.92 834.03C661.52 834.03 667.12 834.03 672.73 834.02C678.35 834.02 686.79 834 689.6 834M157.4 1156.5C157.96 1153.93 159.58 1146.25 160.75 1141.09C161.92 1135.93 163.14 1130.74 164.42 1125.54C165.7 1120.35 167.04 1115.14 168.44 1109.93C169.85 1104.73 171.31 1099.51 172.85 1094.31C174.39 1089.11 175.99 1083.9 177.67 1078.73C179.35 1073.55 181.1 1068.39 182.94 1063.26C184.78 1058.13 186.69 1053.01 188.7 1047.95C190.7 1042.88 192.79 1037.84 194.97 1032.86C197.15 1027.88 199.42 1022.94 201.79 1018.06C204.16 1013.18 206.62 1008.35 209.2 1003.59C211.77 998.83 214.44 994.13 217.22 989.52C220 984.91 222.88 980.36 225.89 975.91C228.89 971.46 232.01 967.08 235.24 962.81C238.48 958.54 241.83 954.35 245.31 950.28C248.8 946.21 252.4 942.24 256.14 938.39C259.87 934.54 263.74 930.79 267.73 927.19C271.73 923.59 275.85 920.1 280.09 916.79C284.32 913.48 288.68 910.31 293.15 907.33C297.61 904.35 302.19 901.53 306.86 898.93C311.53 896.32 316.32 893.91 321.18 891.72C326.05 889.52 331.02 887.57 336.05 885.77C341.08 883.98 346.2 882.41 351.37 880.96C356.53 879.52 361.77 878.26 367.03 877.1C372.29 875.95 377.61 874.95 382.94 874.02C388.27 873.09 393.63 872.29 398.99 871.53C404.34 870.77 409.71 870.09 415.08 869.46C420.45 868.83 425.82 868.26 431.19 867.75C436.56 867.23 441.93 866.77 447.31 866.35C452.69 865.94 458.06 865.57 463.44 865.25C468.82 864.92 474.21 864.64 479.59 864.39C484.97 864.15 490.36 863.94 495.74 863.76C501.13 863.59 506.51 863.44 511.9 863.32C517.29 863.2 522.68 863.11 528.07 863.04C533.45 862.96 538.84 862.91 544.23 862.87C549.62 862.83 555.01 862.81 560.4 862.8C565.79 862.78 571.18 862.78 576.57 862.78C581.96 862.78 587.35 862.79 592.74 862.79C598.13 862.79 603.52 862.8 608.9 862.79C614.29 862.78 619.68 862.77 625.06 862.75C630.44 862.72 635.83 862.68 641.21 862.63C646.59 862.57 651.97 862.5 657.35 862.4C662.73 862.3 668.11 862.19 673.48 862.04C678.86 861.89 686.91 861.59 689.6 861.5M157.4 1156.5C157.97 1154.02 159.62 1146.6 160.82 1141.64C162.02 1136.67 163.27 1131.68 164.61 1126.72C165.95 1121.75 167.36 1116.78 168.87 1111.85C170.39 1106.92 171.98 1101.99 173.69 1097.13C175.41 1092.27 177.22 1087.43 179.17 1082.67C181.11 1077.92 183.17 1073.2 185.38 1068.58C187.59 1063.96 189.94 1059.42 192.42 1054.96C194.9 1050.49 197.54 1046.12 200.24 1041.8C202.95 1037.48 205.78 1033.23 208.64 1029.01C211.5 1024.79 214.42 1020.61 217.39 1016.47C220.36 1012.32 223.34 1008.19 226.44 1004.15C229.54 1000.11 232.7 996.1 236.02 992.21C239.34 988.32 242.77 984.49 246.35 980.8C249.92 977.11 253.62 973.51 257.44 970.06C261.26 966.62 265.21 963.29 269.26 960.13C273.32 956.98 277.49 953.96 281.76 951.14C286.04 948.32 290.42 945.66 294.9 943.22C299.38 940.78 303.96 938.55 308.62 936.5C313.28 934.45 318.04 932.62 322.85 930.93C327.66 929.23 332.56 927.73 337.48 926.33C342.41 924.93 347.4 923.69 352.41 922.52C357.42 921.36 362.48 920.32 367.53 919.33C372.58 918.34 377.66 917.44 382.74 916.58C387.81 915.72 392.89 914.91 397.97 914.16C403.05 913.4 408.13 912.69 413.22 912.03C418.31 911.36 423.4 910.75 428.49 910.17C433.59 909.59 438.68 909.06 443.78 908.56C448.88 908.06 453.98 907.61 459.09 907.18C464.19 906.75 469.3 906.36 474.41 906C479.52 905.63 484.63 905.31 489.74 905C494.86 904.69 499.97 904.41 505.09 904.15C510.2 903.89 515.32 903.66 520.44 903.44C525.56 903.22 530.68 903.02 535.81 902.83C540.93 902.65 546.05 902.48 551.18 902.31C556.3 902.15 561.43 902 566.55 901.86C571.68 901.71 576.81 901.57 581.93 901.44C587.06 901.3 592.19 901.17 597.32 901.03C602.45 900.89 607.58 900.76 612.7 900.62C617.83 900.47 622.96 900.33 628.09 900.17C633.22 900.01 638.35 899.85 643.47 899.67C648.6 899.49 653.73 899.3 658.85 899.09C663.98 898.88 669.11 898.66 674.23 898.41C679.35 898.16 687.04 897.73 689.6 897.6M165.6 1156.5C165.93 1154.17 166.83 1147.27 167.56 1142.54C168.3 1137.82 169.1 1132.99 170.01 1128.16C170.93 1123.33 171.92 1118.42 173.04 1113.54C174.16 1108.66 175.38 1103.74 176.74 1098.88C178.1 1094.01 179.57 1089.14 181.2 1084.36C182.82 1079.57 184.58 1074.81 186.51 1070.16C188.44 1065.52 190.51 1060.93 192.77 1056.49C195.03 1052.05 197.45 1047.69 200.07 1043.52C202.69 1039.34 205.49 1035.29 208.49 1031.44C211.48 1027.58 214.67 1023.88 218.02 1020.38C221.37 1016.88 224.92 1013.55 228.61 1010.44C232.3 1007.32 236.17 1004.42 240.17 1001.69C244.16 998.96 248.32 996.44 252.57 994.07C256.82 991.7 261.22 989.51 265.67 987.46C270.13 985.4 274.71 983.51 279.33 981.74C283.94 979.96 288.65 978.33 293.38 976.79C298.1 975.25 302.89 973.84 307.68 972.5C312.46 971.16 317.28 969.92 322.09 968.75C326.9 967.58 331.73 966.49 336.56 965.47C341.39 964.45 346.23 963.51 351.08 962.62C355.93 961.73 360.79 960.91 365.65 960.13C370.51 959.36 375.38 958.65 380.25 957.97C385.13 957.3 390.01 956.68 394.89 956.08C399.78 955.49 404.67 954.94 409.56 954.42C414.45 953.89 419.35 953.4 424.25 952.92C429.15 952.45 434.05 952 438.95 951.55C443.86 951.11 448.76 950.69 453.67 950.26C458.57 949.83 463.48 949.41 468.39 948.99C473.29 948.56 478.2 948.13 483.11 947.7C488.01 947.27 492.92 946.84 497.82 946.41C502.73 945.98 507.63 945.55 512.54 945.13C517.45 944.7 522.35 944.28 527.26 943.87C532.17 943.46 537.07 943.05 541.98 942.65C546.89 942.26 551.8 941.87 556.71 941.5C561.62 941.13 566.53 940.76 571.44 940.42C576.35 940.08 581.26 939.74 586.18 939.43C591.09 939.12 596 938.83 600.92 938.55C605.84 938.28 610.75 938.03 615.67 937.8C620.59 937.57 625.51 937.37 630.44 937.19C635.36 937.01 640.28 936.86 645.21 936.74C650.13 936.62 655.06 936.52 659.99 936.46C664.92 936.4 669.85 936.37 674.79 936.38C679.72 936.38 687.13 936.48 689.6 936.5" stroke="#1e1e1e" stroke-width="1.3" fill="none" stroke-linejoin="round"/>
<path d="M107.25 676V1156.9H703" stroke="#222" stroke-width="1.4" fill="none"/>
<path d="M107.25 671.5l-1.7 10.5h3.4z" fill="#222"/>
<path d="M709.8 1156.9l-11 -1.7v3.4z" fill="#222"/>
<text transform="translate(80.3 752.3) scale(0.66 1)" font-size="14" text-anchor="start" stroke="#222" stroke-width="0.45">100</text>
<text transform="translate(80.3 888.6) scale(0.66 1)" font-size="14" text-anchor="start" stroke="#222" stroke-width="0.45">10</text>
<text transform="translate(80.3 1024.9) scale(0.66 1)" font-size="14" text-anchor="start" stroke="#222" stroke-width="0.45">1</text>
<text transform="translate(80.3 1161.2) scale(0.66 1)" font-size="14" text-anchor="start" stroke="#222" stroke-width="0.45">0.1</text>
<text transform="translate(100.75 1178.6) scale(0.7 1)" font-size="13.5" text-anchor="start" stroke="#222" stroke-width="0.45">10<tspan dy="-4.5" dx="3" font-size="9.5">-2</tspan></text>
<text transform="translate(183.91 1178.6) scale(0.7 1)" font-size="13.5" text-anchor="start" stroke="#222" stroke-width="0.45">10<tspan dy="-4.5" dx="3" font-size="9.5">-1</tspan></text>
<text transform="translate(267.07 1178.6) scale(0.7 1)" font-size="13.5" text-anchor="start" stroke="#222" stroke-width="0.45">10<tspan dy="-4.5" dx="3" font-size="9.5">0</tspan></text>
<text transform="translate(350.23 1178.6) scale(0.7 1)" font-size="13.5" text-anchor="start" stroke="#222" stroke-width="0.45">10<tspan dy="-4.5" dx="3" font-size="9.5">1</tspan></text>
<text transform="translate(433.39 1178.6) scale(0.7 1)" font-size="13.5" text-anchor="start" stroke="#222" stroke-width="0.45">10<tspan dy="-4.5" dx="3" font-size="9.5">2</tspan></text>
<text transform="translate(516.55 1178.6) scale(0.7 1)" font-size="13.5" text-anchor="start" stroke="#222" stroke-width="0.45">10<tspan dy="-4.5" dx="3" font-size="9.5">3</tspan></text>
<text transform="translate(599.71 1178.6) scale(0.7 1)" font-size="13.5" text-anchor="start" stroke="#222" stroke-width="0.45">10<tspan dy="-4.5" dx="3" font-size="9.5">4</tspan></text>
<text transform="translate(682.87 1178.6) scale(0.7 1)" font-size="13.5" text-anchor="start" stroke="#222" stroke-width="0.45">10<tspan dy="-4.5" dx="3" font-size="9.5">5</tspan></text>
<text transform="translate(697 760.4) scale(0.74 1)" font-size="14" text-anchor="start" stroke="#222" stroke-width="0.45">VRD-90</text>
<text transform="translate(697 779) scale(0.74 1)" font-size="14" text-anchor="start" stroke="#222" stroke-width="0.45">VRD-65</text>
<text transform="translate(697 796) scale(0.74 1)" font-size="14" text-anchor="start" stroke="#222" stroke-width="0.45">VRD-48</text>
<text transform="translate(697 824.5) scale(0.74 1)" font-size="14" text-anchor="start" stroke="#222" stroke-width="0.45">VRD-30</text>
<text transform="translate(697 839) scale(0.74 1)" font-size="14" text-anchor="start" stroke="#222" stroke-width="0.45">VRD-24</text>
<text transform="translate(697 866.5) scale(0.74 1)" font-size="14" text-anchor="start" stroke="#222" stroke-width="0.45">VRD-16</text>
<text transform="translate(697 902.5) scale(0.74 1)" font-size="14" text-anchor="start" stroke="#222" stroke-width="0.45">VRD-8</text>
<text transform="translate(697 942.5) scale(0.74 1)" font-size="14" text-anchor="start" stroke="#222" stroke-width="0.45">VRD-4</text>
<text transform="translate(67 895.5) rotate(-90)" font-size="15.5" fill="#222" stroke="#222" stroke-width="0.3" textLength="184" lengthAdjust="spacingAndGlyphs">抽气速率 ( m<tspan dy="-5" font-size="9.5">3</tspan><tspan dy="5">/h ) −50Hz</tspan></text>
<path d="M106.5 1207.5H176.5" stroke="#222" stroke-width="1.4"/>
<path d="M377 1207.3H441" stroke="#e23be0" stroke-width="1.5" stroke-dasharray="3.5 2"/>
<text x="186.5" y="1212.8" font-size="14.5" font-weight="500" letter-spacing="3.9" fill="#333">关气镇抽速</text>
<text x="445" y="1212.8" font-size="14.5" font-weight="500" letter-spacing="3.9" fill="#333">开气镇抽速</text>
<text x="643.5" y="1212.8" font-size="14.5" font-weight="500" letter-spacing="2.6" fill="#333">压力（Pa）</text>
</svg>
</body>
</html>
